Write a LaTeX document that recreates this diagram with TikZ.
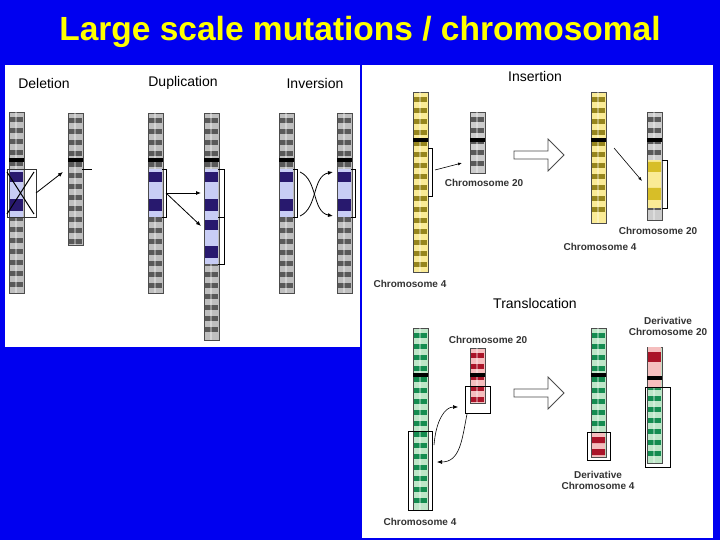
\documentclass[tikz,border=0pt]{standalone}
\usepackage{fontspec}
\setmainfont{Liberation Sans}
\usetikzlibrary{arrows.meta,shapes.arrows}
\definecolor{bg}{RGB}{0,0,240}
\definecolor{ttl}{RGB}{255,255,0}
\definecolor{navy}{RGB}{40,25,110}
\definecolor{lblue}{RGB}{200,205,245}
\definecolor{ylw}{RGB}{215,190,40}
\definecolor{lylw}{RGB}{250,235,150}
\definecolor{grn}{RGB}{20,140,80}
\definecolor{lgrn}{RGB}{190,230,200}
\definecolor{red1}{RGB}{170,20,40}
\definecolor{lred}{RGB}{245,190,190}
\newcommand\chromo[6]{%
  \fill[#5,draw=black!70,line width=0.4] (#1,#2) rectangle (#1+15,#3);
  \pgfmathtruncatemacro\nb{(#3-#2)/11}
  \foreach \i in {1,...,\nb}{\fill[#6] (#1+1,#2+\i*11-6) rectangle (#1+14,#2+\i*11-1);}
  \fill[white,opacity=.35] (#1+6,#2) rectangle (#1+8,#3);
  \fill[black] (#1,#4-2) rectangle (#1+15,#4+2);
}
\newcommand\blueseg[3]{% x top bot
  \fill[lblue] (#1+1,#2) rectangle (#1+14,#3);
  \fill[navy] (#1+1,#2+3) rectangle (#1+14,#2+13);
  \fill[navy] (#1+1,#3-18) rectangle (#1+14,#3-6);
}
\tikzset{lab/.style={font=\fontsize{14}{15}\selectfont,inner sep=0},
  clab/.style={font=\fontsize{10}{11}\selectfont\bfseries,inner sep=0,color=black!80,align=center},
  ar/.style={-{Latex[length=5pt,width=4pt]},line width=0.8},
  hollow/.style={single arrow,draw=black!70,fill=white,line width=0.8,minimum height=50,minimum width=32,single arrow head extend=7,inner sep=2}}
\begin{document}
\begin{tikzpicture}[x=1pt,y=-1pt]
\fill[bg] (0,0) rectangle (720,540);
\node[font=\fontsize{33.5}{37}\selectfont\bfseries,text=ttl] (title) at (360,32) {Large scale mutations / chromosomal};
\fill[white] (5,65) rectangle (360,347);
\fill[white] (362,65) rectangle (713,538);
% left panel
\node[lab] (tdel) at (44,83) {Deletion};
\node[lab] (tdup) at (183,83) {Duplication};
\node[lab] (tinv) at (315,83) {Inversion};
\chromo{9}{112}{293}{160}{black!25}{black!65}
\blueseg{9}{169}{217}
\draw[black!80] (7,169) rectangle (36,217);
\draw[line width=1] (7,172) -- (34,214) (7,214) -- (34,172);
\chromo{68}{113}{245}{160}{black!25}{black!65}
\draw (82,169) -- (92,169);
\coordinate (d1) at (36,193); \coordinate (d2) at (63,172);
\draw[ar] (d1) -- (d2);
\chromo{148}{113}{293}{160}{black!25}{black!65}
\blueseg{148}{169}{217}
\draw (162,169) -- (166,169) -- (166,217) -- (162,217);
\chromo{204}{113}{340}{160}{black!25}{black!65}
\blueseg{204}{169}{217}\blueseg{204}{217}{264}
\draw (218,169) -- (224,169) -- (224,264) -- (218,264);
\draw (218,217) -- (224,217);
\coordinate (u0) at (166,193); \coordinate (u1) at (201,193); \coordinate (u2) at (201,226);
\draw[ar] (u0) -- (u1); \draw[ar] (u0) -- (u2);
\chromo{279}{113}{293}{160}{black!25}{black!65}
\blueseg{279}{169}{217}
\draw (293,169) -- (297,169) -- (297,217) -- (293,217);
\chromo{337}{113}{293}{160}{black!25}{black!65}
\blueseg{337}{169}{217}
\draw (351,169) -- (355,169) -- (355,217) -- (351,217);
\coordinate (i1) at (300,172); \coordinate (i2) at (300,216);
\coordinate (i3) at (333,172); \coordinate (i4) at (333,216);
\draw[ar] (i1) .. controls (318,180) and (312,212) .. (i4);
\draw[ar] (i2) .. controls (318,208) and (312,176) .. (i3);
% insertion
\node[lab] (tins) at (535,76) {Insertion};
\chromo{413}{92}{272}{140}{lylw}{ylw!70!black}
\draw (428,148) -- (432,148) -- (432,196) -- (428,196);
\chromo{470}{112}{173}{140}{black!20}{black!65}
\coordinate (n1) at (435,170); \coordinate (n2) at (462,163);
\draw[-{Latex[length=4pt,width=3pt]},line width=0.6] (n1) -- (n2);
\node[clab] (c20a) at (484,183) {Chromosome 20};
\node[hollow] (h1) at (537,155) {};
\chromo{591}{92}{223}{140}{lylw}{ylw!70!black}
\chromo{647}{112}{220}{140}{black!20}{black!65}
\fill[lylw] (648,160) rectangle (661,208);
\fill[ylw] (648,162) rectangle (661,172) (648,188) rectangle (661,200);
\draw (662,160) -- (667,160) -- (667,208) -- (662,208);
\coordinate (m1) at (614,148); \coordinate (m2) at (642,181);
\draw[-{Latex[length=4pt,width=3pt]},line width=0.6] (m1) -- (m2);
\node[clab] (c20b) at (658,231) {Chromosome 20};
\node[clab] (c4b) at (600,247) {Chromosome 4};
\node[clab] (c4a) at (410,284) {Chromosome 4};
% translocation
\node[lab] (ttr) at (535,303) {Translocation};
\chromo{413}{328}{510}{375}{lgrn}{grn}
\draw[line width=0.8] (408,431) rectangle (432,510);
\chromo{470}{348}{403}{375}{lred}{red1}
\draw[line width=0.8] (465,386) rectangle (490,413);
\coordinate (t1) at (434,445); \coordinate (t2) at (458,407);
\coordinate (t3) at (467,414); \coordinate (t4) at (437,462);
\draw[ar,line width=0.6] (t1) .. controls (436,420) and (445,407) .. (t2);
\draw[ar,line width=0.6] (t3) .. controls (462,440) and (460,462) .. (t4);
\node[clab] (c20c) at (488,340) {Chromosome 20};
\node[clab] (c4c) at (420,522) {Chromosome 4};
\node[hollow] (h2) at (537,393) {};
\chromo{591}{328}{457}{375}{lgrn}{grn}
\fill[lred] (592,433) rectangle (605,457);
\fill[red1] (592,437) rectangle (605,443) (592,449) rectangle (605,455);
\draw[line width=0.8] (587,432) rectangle (610,460);
\chromo{647}{347}{463}{378}{lgrn}{grn}
\fill[lred] (648,347) rectangle (661,376) (648,380) rectangle (661,388);
\fill[red1] (648,352) rectangle (661,362);
\fill[black] (647,376) rectangle (662,380);
\draw[line width=0.8] (645,387) rectangle (670,467);
\node[clab] (d20) at (668,326) {Derivative\\Chromosome 20};
\node[clab] (d4) at (598,480) {Derivative\\Chromosome 4};
\end{tikzpicture}
\end{document}
